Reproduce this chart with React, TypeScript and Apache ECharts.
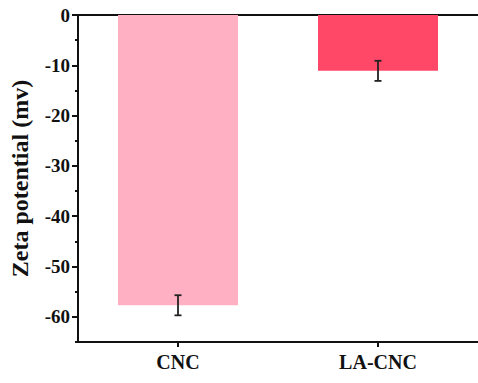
import React, { useEffect, useRef } from "react";
import * as echarts from "echarts";

const categories = ["CNC", "LA-CNC"];
const zetaValues = [-57.7, -11.1];
const zetaErrors = [2.0, 2.0];
const barColors = ["#FFB0C3", "#FF4868"];
const yTicks = [0, -10, -20, -30, -40, -50, -60];
const yMinorTicks = [-5, -15, -25, -35, -45, -55, -65];

export default function App() {
  const ref = useRef<HTMLDivElement>(null);
  useEffect(() => {
    if (!ref.current) return;
    const chart = echarts.init(ref.current, null, { renderer: "svg" });
    const font = "'Liberation Serif', 'Times New Roman', serif";
    const errData = zetaValues.map((v, i) => [i, v - zetaErrors[i], v + zetaErrors[i]]);
    chart.setOption({
      animation: false,
      backgroundColor: "#ffffff",
      grid: { left: 77, top: 15, right: -5, bottom: 41, containLabel: false },
      xAxis: [
        {
          type: "category",
          data: categories,
          position: "bottom",
          axisLine: { show: true, onZero: false, lineStyle: { color: "#111", width: 2 } },
          axisTick: { show: true, alignWithLabel: true, length: 5, lineStyle: { color: "#111", width: 2 } },
          axisLabel: { color: "#111", fontFamily: font, fontWeight: "bold", fontSize: 20, margin: 10 },
        },
        {
          type: "category",
          data: categories,
          position: "top",
          axisLine: { show: true, onZero: false, lineStyle: { color: "#111", width: 2 } },
          axisTick: { show: false },
          axisLabel: { show: false },
        },
      ],
      yAxis: [
        {
          type: "value",
          min: -65,
          max: 0,
          name: "Zeta potential (mv)",
          nameLocation: "middle",
          nameGap: 46,
          nameTextStyle: { color: "#111", fontFamily: font, fontWeight: "bold", fontSize: 24 },
          axisLine: { show: true, onZero: false, lineStyle: { color: "#111", width: 2 } },
          axisTick: { show: true, length: 6, customValues: yTicks, lineStyle: { color: "#111", width: 2 } },
          splitLine: { show: false },
          axisLabel: {
            color: "#111",
            fontFamily: font,
            fontWeight: "bold",
            fontSize: 19,
            margin: 8,
            customValues: yTicks,
          },
        },
        {
          type: "value",
          min: -65,
          max: 0,
          position: "left",
          axisLine: { show: false },
          axisTick: { show: true, length: 3, customValues: yMinorTicks, lineStyle: { color: "#111", width: 2 } },
          axisLabel: { show: false },
          splitLine: { show: false },
        },
      ],
      series: [
        {
          type: "bar",
          data: zetaValues.map((v, i) => ({ value: v, itemStyle: { color: barColors[i] } })),
          barWidth: "60%",
        },
        {
          type: "custom",
          data: errData,
          z: 10,
          renderItem: (params: any, api: any) => {
            const x = api.value(0);
            const lo = api.coord([x, api.value(1)]);
            const hi = api.coord([x, api.value(2)]);
            const hw = 3.5;
            const style = { stroke: "#222", lineWidth: 1.8 };
            return {
              type: "group",
              children: [
                { type: "line", shape: { x1: lo[0], y1: lo[1], x2: hi[0], y2: hi[1] }, style },
                { type: "line", shape: { x1: lo[0] - hw, y1: lo[1], x2: lo[0] + hw, y2: lo[1] }, style },
                { type: "line", shape: { x1: hi[0] - hw, y1: hi[1], x2: hi[0] + hw, y2: hi[1] }, style },
              ],
            };
          },
        },
      ],
    });
    return () => chart.dispose();
  }, []);
  return <div ref={ref} style={{ width: 478, height: 383, position: "absolute", left: 0, top: 0 }} />;
}
